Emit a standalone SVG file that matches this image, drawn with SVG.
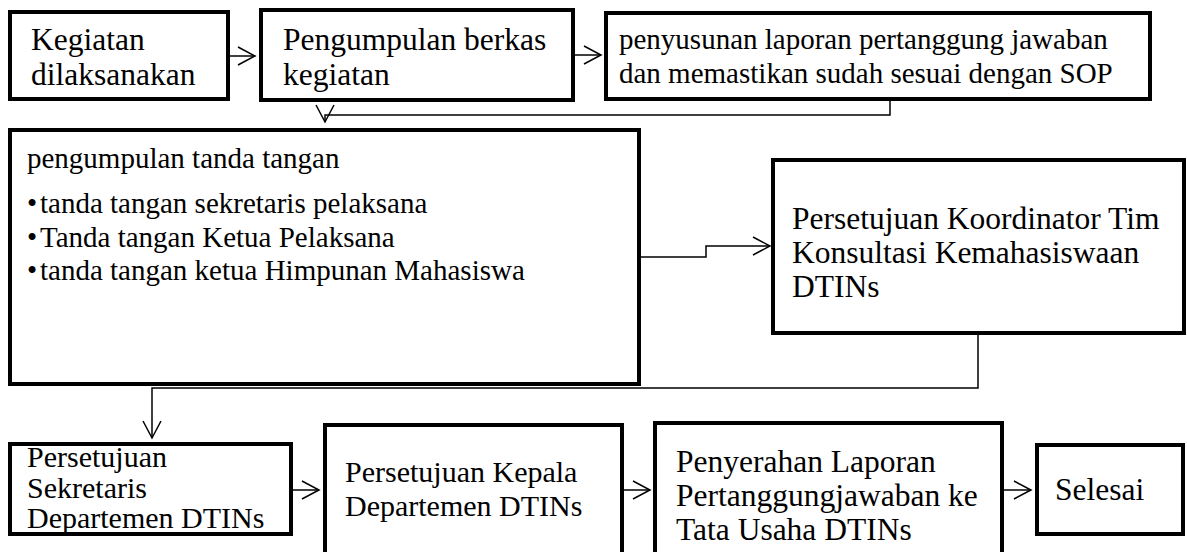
<svg xmlns="http://www.w3.org/2000/svg" width="1187" height="552" viewBox="0 0 1187 552">
<style>
.box{fill:#fff;stroke:#000;stroke-width:4}
.t{font-family:"Liberation Serif","Times New Roman",serif;fill:#000;font-size:31.5px}
.s{font-size:29px}
.m{font-size:30px}
.c{fill:none;stroke:#000;stroke-width:1.5}
</style>
<defs>
<marker id="ah" markerUnits="userSpaceOnUse" markerWidth="20" markerHeight="20" viewBox="0 0 20 20" refX="18" refY="10" orient="auto">
<path d="M1,1 L18,10 L1,19" fill="none" stroke="#000" stroke-width="1.5"/>
</marker>
</defs>
<rect width="1187" height="552" fill="#fff"/>
<g id="connectors">
<line class="c" x1="228" y1="56" x2="255" y2="56" marker-end="url(#ah)"/>
<line class="c" x1="573" y1="55" x2="601" y2="55" marker-end="url(#ah)"/>
<polyline class="c" points="890,99 890,115 325,115 325,122" marker-end="url(#ah)"/>
<polyline class="c" points="639,257 706,257 706,246 770,246" marker-end="url(#ah)"/>
<polyline class="c" points="978,333 978,388 152,388 152,438" marker-end="url(#ah)"/>
<line class="c" x1="291" y1="490" x2="319" y2="490" marker-end="url(#ah)"/>
<line class="c" x1="622" y1="490" x2="650" y2="490" marker-end="url(#ah)"/>
<line class="c" x1="1002" y1="490" x2="1031" y2="490" marker-end="url(#ah)"/>
</g>
<g id="n1">
<rect class="box" x="10" y="12" width="218" height="87"/>
<text class="t" x="31" y="50">Kegiatan</text>
<text class="t" x="31" y="85">dilaksanakan</text>
</g>
<g id="n2">
<rect class="box" x="261" y="10" width="312" height="90"/>
<text class="t" x="283" y="50">Pengumpulan berkas</text>
<text class="t" x="283" y="85">kegiatan</text>
</g>
<g id="n3">
<rect class="box" x="606" y="13" width="544" height="86"/>
<text class="t s" x="619" y="49">penyusunan laporan pertanggung jawaban</text>
<text class="t s" x="619" y="83">dan memastikan sudah sesuai dengan SOP</text>
</g>
<g id="n4">
<rect class="box" x="10" y="130" width="629" height="254"/>
<text class="t s" x="27" y="168">pengumpulan tanda tangan</text>
<text class="t s" x="27" y="213">•</text><text class="t s" x="40" y="213">tanda tangan sekretaris pelaksana</text>
<text class="t s" x="27" y="247">•</text><text class="t s" x="40" y="247">Tanda tangan Ketua Pelaksana</text>
<text class="t s" x="27" y="280">•</text><text class="t s" x="40" y="280">tanda tangan ketua Himpunan Mahasiswa</text>
</g>
<g id="n5">
<rect class="box" x="773" y="160" width="411" height="173"/>
<text class="t" x="792" y="229">Persetujuan Koordinator Tim</text>
<text class="t" x="792" y="263">Konsultasi Kemahasiswaan</text>
<text class="t" x="792" y="297">DTINs</text>
</g>
<g id="n6">
<rect class="box" x="10" y="444" width="281" height="90"/>
<text class="t m" x="27" y="467">Persetujuan</text>
<text class="t m" x="27" y="498">Sekretaris</text>
<text class="t m" x="27" y="528">Departemen DTINs</text>
</g>
<g id="n7">
<rect class="box" x="325" y="425" width="297" height="135"/>
<text class="t m" x="345" y="482">Persetujuan Kepala</text>
<text class="t m" x="345" y="516">Departemen DTINs</text>
</g>
<g id="n8">
<rect class="box" x="655" y="423" width="347" height="140"/>
<text class="t" x="676" y="472">Penyerahan Laporan</text>
<text class="t" x="676" y="506">Pertanggungjawaban ke</text>
<text class="t" x="676" y="540">Tata Usaha DTINs</text>
</g>
<g id="n9">
<rect class="box" x="1037" y="445" width="146" height="89"/>
<text class="t" x="1055" y="500">Selesai</text>
</g>
</svg>
